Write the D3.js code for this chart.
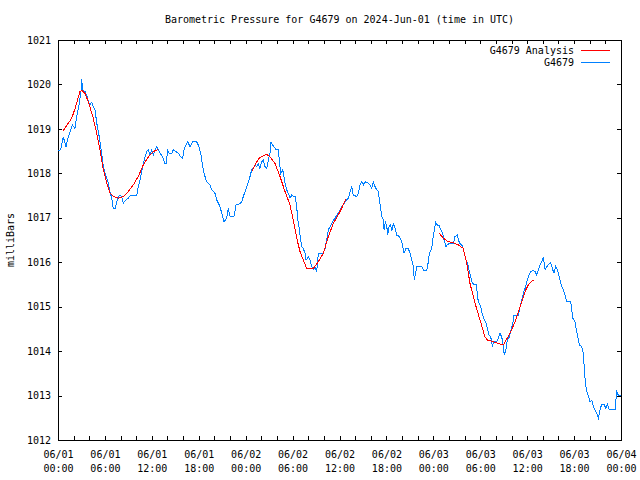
<!DOCTYPE html>
<html>
<head>
<meta charset="utf-8">
<script src="https://cdn.jsdelivr.net/npm/d3@7"></script>
<style>
  html, body { margin: 0; padding: 0; background: #fff; }
  text { font-family: "DejaVu Sans Mono", "Liberation Mono", monospace; font-size: 10px; fill: #000; }
</style>
</head>
<body>
<script>
// ---- data (hours since 2024-06-01 00:00 UTC, pressure in millibars) ----
const title = "Barometric Pressure for G4679 on 2024-Jun-01 (time in UTC)";
const yLabel = "milliBars";
const seriesNames = ["G4679 Analysis", "G4679"];
const yTickValues = [1012, 1013, 1014, 1015, 1016, 1017, 1018, 1019, 1020, 1021];

const obsHours = [0.0,0.35,0.68,1.02,1.32,1.83,2.17,2.39,2.72,2.94,3.03,3.16,3.45,3.67,3.88,4.09,4.31,4.51,4.73,5.03,5.28,5.59,5.79,6.10,6.43,6.65,6.87,7.07,7.33,7.58,7.84,8.15,8.35,8.70,8.99,9.30,10.07,10.27,10.49,10.70,10.91,11.13,11.34,11.55,11.77,11.98,12.19,12.41,12.62,12.83,13.05,13.39,13.68,13.90,13.98,14.23,14.54,14.75,15.09,15.39,15.70,15.95,16.11,16.46,16.59,16.88,17.23,17.74,18.03,18.25,18.51,18.67,19.02,19.44,19.66,20.08,20.30,20.72,20.94,21.23,21.58,21.78,22.00,22.51,22.77,23.06,23.49,23.70,23.92,24.13,24.34,24.56,24.77,24.98,25.19,25.41,25.62,25.83,26.04,26.26,26.47,26.69,26.90,27.11,27.24,27.46,27.62,27.88,28.17,28.30,28.48,28.73,28.90,29.03,29.25,29.45,29.67,29.89,30.09,30.31,30.53,30.66,30.82,30.95,31.17,31.37,31.59,31.72,31.89,32.02,32.23,32.45,32.65,32.87,33.09,33.29,33.93,34.15,34.36,34.57,35.00,35.21,35.43,35.64,35.85,36.07,36.28,36.49,36.71,36.92,37.13,37.35,37.56,37.76,38.20,38.40,38.62,38.84,39.05,39.26,39.69,39.91,40.12,40.33,40.55,40.76,40.97,41.10,41.40,41.61,41.70,41.87,42.05,42.17,42.33,42.55,42.68,42.88,43.10,43.32,43.65,43.74,43.96,44.25,44.51,44.80,45.02,45.23,45.44,45.57,45.88,46.51,46.81,47.15,47.36,47.49,47.79,47.92,48.09,48.31,48.51,48.77,48.95,49.20,49.37,49.62,49.79,50.01,50.56,50.77,51.07,51.20,51.41,51.63,51.83,51.96,52.18,52.39,52.56,52.78,52.91,53.11,53.55,53.62,53.84,54.06,54.18,54.39,54.52,54.73,54.90,55.12,55.34,55.54,55.76,56.10,56.31,56.53,56.74,56.87,57.08,57.30,57.47,57.72,57.94,58.16,58.32,58.87,59.09,59.31,59.51,59.73,59.86,60.02,60.24,60.46,60.79,61.01,61.23,61.43,61.64,61.86,62.07,62.29,62.51,62.71,63.01,63.22,63.43,63.65,63.86,64.04,64.20,64.42,64.62,64.84,65.06,65.57,65.70,65.83,66.12,66.25,66.47,66.67,66.98,67.19,67.32,67.44,67.62,67.83,68.05,68.27,68.48,68.69,68.90,69.11,69.32,69.54,69.83,70.05,70.25,70.47,71.24,71.45,71.66,72.0];
const obsPressure = [1018.50,1018.53,1018.82,1018.60,1018.82,1019.09,1019.01,1019.27,1019.57,1019.84,1020.12,1019.87,1019.84,1019.76,1019.61,1019.55,1019.60,1019.50,1019.42,1019.05,1018.82,1018.45,1018.15,1017.96,1017.78,1017.59,1017.44,1017.21,1017.21,1017.40,1017.51,1017.48,1017.33,1017.40,1017.44,1017.51,1017.51,1017.70,1017.85,1018.04,1018.22,1018.37,1018.49,1018.53,1018.41,1018.53,1018.41,1018.53,1018.60,1018.53,1018.45,1018.37,1018.22,1018.22,1018.53,1018.45,1018.45,1018.53,1018.49,1018.45,1018.37,1018.34,1018.53,1018.67,1018.71,1018.60,1018.71,1018.71,1018.60,1018.45,1018.15,1018.00,1017.81,1017.74,1017.63,1017.55,1017.40,1017.25,1017.10,1016.90,1017.00,1017.21,1017.03,1017.03,1017.29,1017.29,1017.36,1017.48,1017.59,1017.70,1017.81,1017.93,1018.08,1018.11,1018.19,1018.15,1018.22,1018.11,1018.26,1018.30,1018.15,1018.11,1018.30,1018.45,1018.71,1018.63,1018.60,1018.53,1018.53,1018.30,1018.00,1018.08,1017.93,1017.78,1017.63,1017.55,1017.44,1017.51,1017.48,1017.48,1017.25,1016.95,1016.80,1016.61,1016.35,1016.31,1016.20,1016.05,1016.09,1016.12,1016.05,1015.90,1015.83,1015.90,1015.79,1016.20,1016.20,1016.31,1016.50,1016.73,1016.87,1016.95,1016.98,1017.06,1017.10,1017.18,1017.25,1017.29,1017.36,1017.40,1017.44,1017.59,1017.70,1017.51,1017.48,1017.55,1017.74,1017.81,1017.74,1017.81,1017.78,1017.74,1017.66,1017.81,1017.70,1017.63,1017.59,1017.40,1017.03,1016.95,1016.73,1016.92,1016.80,1016.61,1016.80,1016.84,1016.70,1016.87,1016.77,1016.61,1016.58,1016.54,1016.46,1016.20,1016.31,1016.31,1016.20,1016.05,1015.90,1015.60,1015.90,1015.90,1015.81,1015.81,1016.01,1016.20,1016.31,1016.50,1016.69,1016.89,1016.84,1016.82,1016.73,1016.65,1016.50,1016.35,1016.39,1016.42,1016.42,1016.58,1016.61,1016.50,1016.42,1016.39,1016.31,1016.20,1016.05,1015.98,1015.83,1015.68,1015.56,1015.51,1015.51,1015.22,1015.08,1015.00,1014.89,1014.78,1014.70,1014.63,1014.51,1014.36,1014.32,1014.12,1014.21,1014.21,1014.29,1014.40,1014.32,1014.21,1013.91,1014.06,1014.25,1014.32,1014.47,1014.63,1014.81,1014.81,1015.00,1015.15,1015.30,1015.41,1015.49,1015.60,1015.71,1015.79,1015.81,1015.79,1015.71,1015.83,1015.94,1016.01,1016.11,1015.83,1015.90,1015.94,1015.99,1015.86,1015.75,1015.90,1015.83,1015.71,1015.60,1015.45,1015.38,1015.26,1015.11,1015.11,1014.93,1014.74,1014.66,1014.51,1014.32,1014.14,1014.10,1013.95,1013.58,1013.28,1013.09,1012.98,1012.86,1012.90,1012.75,1012.67,1012.60,1012.49,1012.68,1012.81,1012.81,1012.71,1012.81,1012.69,1012.69,1013.09,1013.01,1013.01];

// analysis: three 12-hour segments, separated by null gaps
const anaHours = [0.6,1.02,1.75,2.17,2.81,3.07,3.45,3.88,4.51,4.95,5.37,5.72,6.23,6.65,7.07,7.71,8.35,8.99,9.63,10.27,10.91,11.55,12.19,12.83,
  null,
  24.77,25.41,25.83,26.69,27.11,27.75,28.39,29.03,29.67,30.09,30.53,30.95,31.37,31.81,32.65,33.29,33.93,34.57,35.21,36.07,36.83,
  null,
  48.77,49.28,49.92,50.56,51.20,51.83,52.26,52.69,53.33,53.97,54.60,54.90,55.67,56.53,56.95,57.38,57.81,58.45,59.09,59.73,60.15,60.79];
const anaPressure = [1018.94,1019.05,1019.24,1019.45,1019.84,1019.86,1019.80,1019.61,1019.24,1018.90,1018.53,1018.15,1017.78,1017.55,1017.48,1017.44,1017.48,1017.59,1017.74,1017.93,1018.19,1018.37,1018.49,1018.54,
  null,
  1018.04,1018.26,1018.36,1018.43,1018.37,1018.22,1017.93,1017.59,1017.29,1016.95,1016.54,1016.24,1016.05,1015.86,1015.86,1016.01,1016.20,1016.58,1016.87,1017.14,1017.42,
  null,
  1016.65,1016.54,1016.46,1016.44,1016.39,1016.31,1015.98,1015.52,1015.08,1014.70,1014.32,1014.25,1014.21,1014.16,1014.14,1014.27,1014.40,1014.66,1015.00,1015.34,1015.49,1015.60];

// ---- chart ----
const W = 640, H = 480;
const L = 58, R = 621, T = 40, B = 440;
const HOUR = 3600 * 1000;
const t0 = Date.UTC(2024, 5, 1, 0, 0);
const toDate = h => new Date(t0 + h * HOUR);

const svg = d3.select("body").append("svg")
  .attr("width", W).attr("height", H)
  .style("display", "block");
svg.append("rect").attr("width", W).attr("height", H).attr("fill", "#fff");

const x = d3.scaleUtc().domain([toDate(0), toDate(72)]).range([L, R]);
const y = d3.scaleLinear().domain([1012, 1021]).range([B, T]);

const xTicks = d3.range(0, 73, 2).map(toDate);
const pad2 = n => String(n).padStart(2, "0");

// axes
const gB = svg.append("g").attr("transform", `translate(0,${B})`)
  .call(d3.axisBottom(x).tickValues(xTicks).tickSize(-4).tickPadding(10)
    .tickFormat(d => d.getUTCHours() % 6 === 0 ? "x" : ""));
gB.selectAll(".tick text").each(function(d) {
  const t = d3.select(this);
  const isLabel = d.getUTCHours() % 6 === 0;
  t.text(null);
  if (!isLabel) return;
  t.attr("y", 0).attr("dy", null);
  t.append("tspan").attr("x", 0).attr("y", 18)
    .text(`${pad2(d.getUTCMonth() + 1)}/${pad2(d.getUTCDate())}`);
  t.append("tspan").attr("x", 0).attr("y", 32)
    .text(`${pad2(d.getUTCHours())}:${pad2(d.getUTCMinutes())}`);
});
const gT = svg.append("g").attr("transform", `translate(0,${T})`)
  .call(d3.axisTop(x).tickValues(xTicks).tickSize(-4).tickFormat(""));
const gL = svg.append("g").attr("transform", `translate(${L},0)`)
  .call(d3.axisLeft(y).tickValues(yTickValues).tickSize(-4).tickPadding(7).tickFormat(d3.format("d")));
const gR = svg.append("g").attr("transform", `translate(${R},0)`)
  .call(d3.axisRight(y).tickValues(yTickValues).tickSize(-4).tickFormat(""));

[gB, gT, gL, gR].forEach(g => {
  g.select(".domain").remove();
  g.attr("font-family", null).attr("font-size", null);
  g.selectAll(".tick line").attr("stroke", "#000").attr("shape-rendering", "crispEdges");
});

svg.append("rect")
  .attr("x", L).attr("y", T).attr("width", R - L).attr("height", B - T)
  .attr("fill", "none").attr("stroke", "#000").attr("stroke-width", 1)
  .attr("shape-rendering", "crispEdges");

// lines
const obs = obsHours.map((h, i) => ({ t: toDate(h), v: obsPressure[i] }));
const ana = anaHours.map((h, i) => ({ t: h === null ? null : toDate(h), v: anaPressure[i] }));

const line = d3.line()
  .defined(d => d.t !== null && d.v !== null)
  .x(d => x(d.t)).y(d => y(d.v));

const blue = "#0080ff", red = "#ff0000";

svg.append("path").datum(obs)
  .attr("d", line).attr("fill", "none").attr("stroke", blue).attr("stroke-width", 1)
  .attr("shape-rendering", "crispEdges");
svg.append("path").datum(ana)
  .attr("d", line).attr("fill", "none").attr("stroke", red).attr("stroke-width", 1)
  .attr("shape-rendering", "crispEdges");

// title and y label
svg.append("text").attr("x", (L + R) / 2).attr("y", 23)
  .attr("text-anchor", "middle").text(title);
svg.append("text")
  .attr("transform", `translate(14,${(T + B) / 2}) rotate(-90)`)
  .attr("text-anchor", "middle").text(yLabel);

// legend
const legend = svg.append("g");
const legendRows = [
  { name: seriesNames[0], color: red, y: 50 },
  { name: seriesNames[1], color: blue, y: 62 }
];
legendRows.forEach(r => {
  legend.append("text").attr("x", 574).attr("y", r.y).attr("dy", "0.35em")
    .attr("text-anchor", "end").text(r.name);
  legend.append("line").attr("x1", 581).attr("x2", 610)
    .attr("y1", r.y).attr("y2", r.y)
    .attr("stroke", r.color).attr("stroke-width", 1).attr("shape-rendering", "crispEdges");
});
</script>
</body>
</html>
